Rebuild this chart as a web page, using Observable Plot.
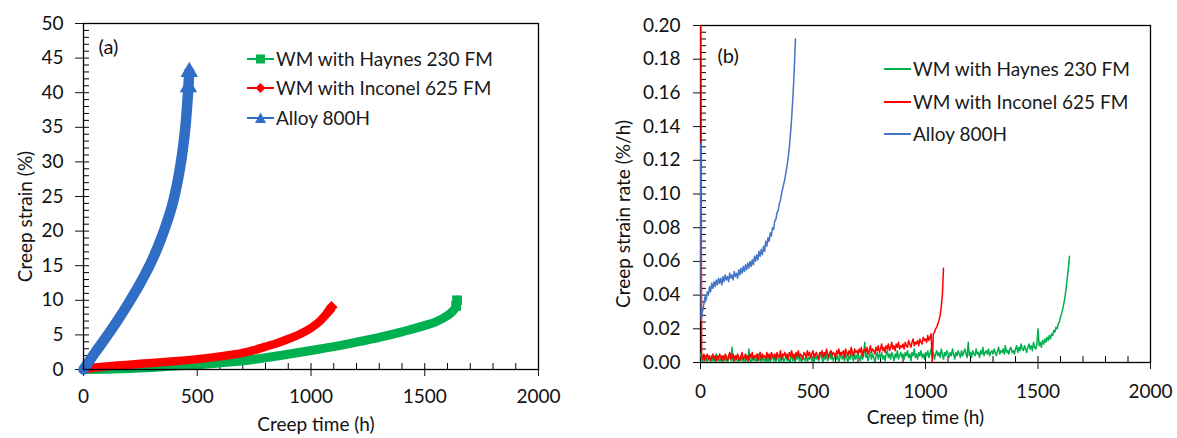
<!DOCTYPE html>
<html><head><meta charset="utf-8">
<script src="https://cdn.jsdelivr.net/npm/d3@7"></script>
<script src="https://cdn.jsdelivr.net/npm/@observablehq/plot@0.6"></script>
<style>
body{margin:0;background:#fff;font-family:Lato,"Open Sans",sans-serif;}
#wrap{position:relative;width:1177px;height:438px;overflow:hidden;background:#fff;}
.panel{position:absolute;top:0;}
.legend{position:absolute;font-size:19px;color:#1a1a1a;font-family:Lato,sans-serif;}
.legend .row{position:absolute;left:0;height:30px;line-height:30px;white-space:nowrap;display:flex;align-items:center;}
.legend svg{display:block;}
</style></head>
<body><div id="wrap"></div>
<script>
// ---------- data ----------
const seriesNames = ["WM with Haynes 230 FM", "WM with Inconel 625 FM", "Alloy 800H"];
const colorsA = ["#00B050", "#FF0000", "#2F6EC4"];
const colorsB = ["#00B050", "#FF0000", "#4475C6"];

// (a) creep strain (%) vs creep time (h)
const strainHaynes = [[0,0],[100,0.05],[200,0.15],[300,0.3],[400,0.5],[500,0.7],[600,0.95],[700,1.25],[800,1.7],[900,2.2],[1000,2.75],[1100,3.3],[1200,3.95],[1300,4.65],[1400,5.45],[1500,6.35],[1550,6.9],[1600,7.8],[1625,8.5],[1638,9.2],[1642,10.0]];
const strainInconel = [[0,0],[20,0.15],[50,0.3],[100,0.45],[200,0.7],[300,0.95],[400,1.2],[500,1.5],[600,1.9],[700,2.4],[750,2.8],[800,3.3],[850,3.8],[900,4.4],[950,5.1],[1000,6.0],[1040,7.0],[1065,7.9],[1080,8.5],[1090,9.0]];
const strain800H = [[0,0],[25,1.2],[50,2.4],[100,4.7],[150,7.1],[200,9.7],[250,12.5],[300,15.7],[340,18.8],[370,21.6],[395,24.4],[415,27.4],[430,30.3],[441,33.0],[450,35.8],[456,38.3],[461,40.8],[465,43.0]];

// (b) creep strain rate, logged every 5 h, values in 0.001 %/h
const logStep = 5;
const rateHaynesMilli = [
  5,2,0,3,1,4,0,2,3,0,4,1,2,0,5,1,3,0,2,4,
  0,3,1,4,0,2,5,1,9,0,3,1,4,0,2,3,1,5,0,2,
  1,4,0,8,2,0,3,1,4,0,2,5,1,3,0,4,1,2,0,3,
  1,4,0,2,5,1,3,0,4,2,0,3,1,5,0,2,4,1,3,0,
  2,5,1,3,0,4,2,5,1,3,0,4,2,1,5,0,3,2,4,1,
  3,0,5,2,4,1,3,6,2,0,4,2,5,1,3,6,2,4,1,3,
  5,2,4,0,3,6,2,4,1,5,3,0,4,2,6,3,1,5,2,4,
  6,3,1,5,2,4,12,3,5,1,4,6,2,5,3,0,4,6,2,5,
  3,6,2,4,1,5,7,3,5,2,6,4,1,5,3,7,2,4,6,3,
  5,2,6,4,7,3,5,1,6,4,8,3,5,2,6,4,7,3,5,2,
  6,4,7,3,5,8,4,6,2,5,7,4,6,3,8,5,2,6,4,7,
  5,3,6,4,8,5,2,6,4,7,5,3,7,4,6,8,5,3,12,4,
  6,3,7,5,4,8,5,6,3,7,5,9,4,6,7,5,8,4,6,7,
  5,8,6,4,7,9,5,7,6,8,5,10,6,7,5,8,9,6,7,5,
  8,10,6,9,7,11,8,7,10,8,6,9,11,8,10,7,12,9,8,11,
  20,10,12,9,13,11,14,12,15,13,16,14,17,16,19,18,21,20,23,24,
  27,29,32,35,39,44,50,56,63];
const rateInconelMilli = [
  300,4,2,5,1,3,5,2,4,1,3,5,2,4,1,4,2,5,3,1,
  4,2,5,3,1,4,6,2,3,5,1,4,2,5,3,1,4,6,2,3,
  5,2,4,1,5,3,6,2,4,3,5,1,4,6,2,5,3,4,2,6,
  3,5,2,6,4,3,5,2,6,4,3,7,2,5,4,6,3,5,2,6,
  4,7,3,5,2,6,4,7,3,5,4,2,6,5,3,7,4,6,3,5,
  7,3,5,6,4,2,6,5,7,3,6,4,8,5,3,6,7,4,6,5,
  3,7,5,8,4,6,5,7,3,8,6,4,7,5,9,6,4,8,6,7,
  5,8,6,9,4,7,8,6,9,5,7,10,6,8,7,5,9,7,10,6,
  8,11,7,9,6,10,8,11,7,9,12,8,10,7,11,9,12,8,10,9,
  11,8,12,10,9,13,11,9,12,14,10,12,11,13,10,14,12,11,15,13,
  14,12,16,13,15,17,0,17,18,20,21,23,25,28,33,40,56];
const rate800H = [[0,0.130],[3,0.025],[5,0.027],[10,0.031],[15,0.035],[20,0.039],[25,0.037],[30,0.042],[35,0.040],[40,0.045],[45,0.042],[50,0.047],[55,0.044],[60,0.048],[65,0.045],[70,0.049],[75,0.046],[80,0.050],[85,0.047],[90,0.050],[95,0.046],[100,0.051],[105,0.048],[110,0.052],[115,0.049],[120,0.051],[125,0.048],[130,0.053],[135,0.050],[140,0.052],[145,0.049],[150,0.054],[155,0.051],[160,0.053],[165,0.050],[170,0.055],[175,0.052],[180,0.056],[185,0.053],[190,0.057],[195,0.054],[200,0.058],[205,0.055],[210,0.059],[215,0.056],[220,0.060],[225,0.057],[230,0.061],[235,0.058],[240,0.063],[245,0.060],[250,0.064],[255,0.061],[260,0.066],[265,0.063],[270,0.067],[275,0.064],[280,0.069],[285,0.066],[290,0.072],[295,0.069],[300,0.074],[305,0.072],[310,0.077],[315,0.075],[320,0.080],[325,0.079],[330,0.084],[335,0.085],[340,0.089],[345,0.090],[350,0.094],[355,0.096],[360,0.100],[365,0.103],[370,0.106],[375,0.109],[380,0.113],[385,0.117],[390,0.122],[395,0.128],[400,0.136],[405,0.145],[410,0.156],[414,0.166],[418,0.178],[422,0.192]];

// axis ticks
const timeTicks = [0, 500, 1000, 1500, 2000];
const strainTicks = [0, 5, 10, 15, 20, 25, 30, 35, 40, 45, 50];
const rateTicks = [0, 0.02, 0.04, 0.06, 0.08, 0.10, 0.12, 0.14, 0.16, 0.18, 0.20];
const timeMinor = d3.range(0, 2001, 100);
const strainMinor = d3.range(0, 50.01, 1);
const rateMinor = d3.range(0, 0.2001, 0.004);

const toObj = (arr, s) => arr.map(([t, v]) => ({t, v, s}));
const fromLog = (arr, s) => arr.map((m, i) => ({t: i * logStep, v: m / 1000, s}));
const seriesA = [strainHaynes, strainInconel, strain800H].map((a, i) => toObj(a, seriesNames[i]));
const seriesB = [fromLog(rateHaynesMilli, seriesNames[0]), fromLog(rateInconelMilli, seriesNames[1]), toObj(rate800H, seriesNames[2])];

const wrap = document.getElementById("wrap");
const FONT = "Lato, 'Open Sans', sans-serif";
const symbolsA = ["square", "diamond2", "triangle"];
const widthsA = [9, 8.5, 10.5];

// ---------- panel (a) ----------
{
  const W = 585, H = 438, mt = 23, mb = 69, ml = 83, mr = 47;
  const FW = W - ml - mr, FH = H - mt - mb;
  const marks = [
    Plot.ruleX(timeMinor, {x: d => d, insetTop: FH - 6, stroke: "#000", strokeWidth: 1}),
    Plot.ruleY(strainMinor, {y: d => d, insetRight: FW - 6, stroke: "#000", strokeWidth: 1}),
    Plot.axisX({ticks: timeTicks, tickSize: 7, tickPadding: 13, tickFormat: d => String(d), label: null, fontSize: 19}),
    Plot.axisY({ticks: strainTicks, tickSize: 8, tickPadding: 12, tickFormat: d => String(d), label: null, fontSize: 19}),
  ];
  seriesA.forEach((data, i) => {
    marks.push(Plot.line(data, {x: "t", y: "v", stroke: colorsA[i], strokeWidth: widthsA[i], strokeLinecap: "round", strokeLinejoin: "round", curve: "monotone-x"}));
    marks.push(Plot.dot(data.slice(-2), {x: "t", y: "v", fill: colorsA[i], stroke: "none", symbol: symbolsA[i], r: i === 2 ? 6.5 : 5.5}));
  });
  marks.push(Plot.frame({stroke: "#000", strokeWidth: 1.3}));
  marks.push(Plot.text(["(a)"], {frameAnchor: "top-left", dx: 15, dy: 24, textAnchor: "start", lineAnchor: "middle", fontSize: 20, fill: "#111"}));
  marks.push(Plot.text(["Creep time (h)"], {frameAnchor: "bottom", dx: 5, dy: 55, lineAnchor: "middle", textAnchor: "middle", fontSize: 19, fill: "#111"}));
  marks.push(Plot.text(["Creep strain (%)"], {frameAnchor: "left", dx: -58, dy: 20, rotate: -90, textAnchor: "middle", lineAnchor: "middle", fontSize: 19, fill: "#111"}));
  const p = Plot.plot({
    width: W, height: H, marginTop: mt, marginBottom: mb, marginLeft: ml, marginRight: mr,
    style: {fontFamily: FONT, fontSize: "19px", color: "#111", background: "transparent", overflow: "visible"},
    x: {domain: [0, 2000]}, y: {domain: [0, 50]},
    marks
  });
  p.classList.add("panel");
  p.style.left = "0px";
  wrap.appendChild(p);
}

// ---------- panel (b) ----------
{
  const W = 592, H = 438, mt = 25, mb = 76, ml = 115, mr = 27;
  const FW = W - ml - mr, FH = H - mt - mb;
  const marks = [
    Plot.ruleX(timeMinor, {x: d => d, insetTop: FH - 6, stroke: "#000", strokeWidth: 1}),
    Plot.ruleY(rateMinor, {y: d => d, insetRight: FW - 6, stroke: "#000", strokeWidth: 1}),
    Plot.frame({stroke: "#000", strokeWidth: 1.3}),
    Plot.axisX({ticks: timeTicks, tickSize: 7, tickPadding: 15, tickFormat: d => String(d), label: null, fontSize: 19}),
    Plot.axisY({ticks: rateTicks, tickSize: 7, tickPadding: 13, tickFormat: d3.format(".2f"), label: null, fontSize: 19}),
  ];
  seriesB.forEach((data, i) => {
    marks.push(Plot.line(data, {x: "t", y: "v", stroke: colorsB[i], strokeWidth: 1.5, clip: true}));
  });
  marks.push(Plot.text(["(b)"], {frameAnchor: "top-left", dx: 17, dy: 31, textAnchor: "start", lineAnchor: "middle", fontSize: 20, fill: "#111"}));
  marks.push(Plot.text(["Creep time (h)"], {frameAnchor: "bottom", dy: 55, lineAnchor: "middle", textAnchor: "middle", fontSize: 19, fill: "#111"}));
  marks.push(Plot.text(["Creep strain rate (%/h)"], {frameAnchor: "left", dx: -77, dy: 20, rotate: -90, textAnchor: "middle", lineAnchor: "middle", fontSize: 19, fill: "#111"}));
  const p = Plot.plot({
    width: W, height: H, marginTop: mt, marginBottom: mb, marginLeft: ml, marginRight: mr,
    style: {fontFamily: FONT, fontSize: "19px", color: "#111", background: "transparent", overflow: "visible"},
    x: {domain: [0, 2000]}, y: {domain: [0, 0.2]},
    marks
  });
  p.classList.add("panel");
  p.style.left = "585px";
  wrap.appendChild(p);
}

// ---------- legends ----------
function swatch(color, sym) {
  const ns = "http://www.w3.org/2000/svg";
  const s = document.createElementNS(ns, "svg");
  s.setAttribute("width", 29); s.setAttribute("height", 14);
  const l = document.createElementNS(ns, "line");
  l.setAttribute("x1", 0); l.setAttribute("x2", 27); l.setAttribute("y1", 7); l.setAttribute("y2", 7);
  l.setAttribute("stroke", color); l.setAttribute("stroke-width", 2);
  s.appendChild(l);
  let m = null;
  if (sym === "square") { m = document.createElementNS(ns, "rect"); m.setAttribute("x", 9); m.setAttribute("y", 2.5); m.setAttribute("width", 9); m.setAttribute("height", 9); }
  else if (sym === "diamond") { m = document.createElementNS(ns, "path"); m.setAttribute("d", "M13.5,2 L18.5,7 L13.5,12 L8.5,7Z"); }
  else if (sym === "triangle") { m = document.createElementNS(ns, "path"); m.setAttribute("d", "M13.5,1.5 L19,12 L8,12Z"); }
  if (m) { m.setAttribute("fill", color); s.appendChild(m); }
  return s;
}
function legend(left, centers, colors, syms) {
  const d = document.createElement("div");
  d.className = "legend";
  d.style.left = left + "px"; d.style.top = "0px";
  seriesNames.forEach((n, i) => {
    const r = document.createElement("div");
    r.className = "row";
    r.style.top = (centers[i] - 15) + "px";
    r.appendChild(swatch(colors[i], syms ? syms[i] : null));
    const t = document.createElement("span");
    t.textContent = n;
    r.appendChild(t);
    d.appendChild(r);
  });
  wrap.appendChild(d);
}
legend(247, [59, 88, 118], colorsA, ["square", "diamond", "triangle"]);
legend(884, [69, 102, 134], colorsB, null);
</script></body></html>
